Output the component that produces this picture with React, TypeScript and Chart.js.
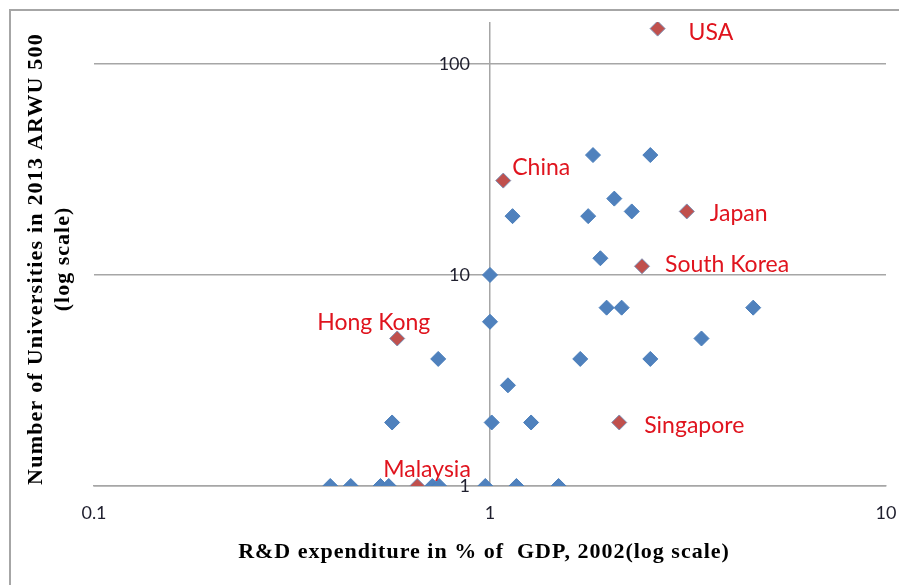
import React, { useEffect, useRef } from 'react';
import { Chart, registerables } from 'chart.js';

Chart.register(...registerables);

// ---- Data ----
const otherRD = [1.0, 1.82, 2.54, 2.06, 2.28, 1.14, 1.77, 1.9, 1.97, 2.15, 4.62, 1.0, 0.74, 1.69, 2.54, 3.42, 1.11, 0.566, 1.01, 1.27, 0.395, 0.445, 0.529, 0.555, 0.715, 0.744, 0.973, 1.166, 1.49];
const otherUniv = [10, 37, 37, 23, 20, 19, 19, 12, 7, 7, 7, 6, 4, 4, 4, 5, 3, 2, 2, 2, 1, 1, 1, 1, 1, 1, 1, 1, 1];
const namedCountries = ['USA', 'China', 'Japan', 'South Korea', 'Hong Kong', 'Singapore', 'Malaysia'];
const namedRD = [2.65, 1.08, 3.14, 2.42, 0.583, 2.12, 0.655];
const namedUniv = [147, 28, 20, 11, 5, 2, 1];
const xTickValues = [0.1, 1, 10];
const yTickValues = [1, 10, 100];
const xAxisTitle = 'R&D expenditure in % of  GDP, 2002(log scale)';
const yAxisTitleLines = ['Number of Universities in 2013 ARWU 500', '(log scale)'];

// ---- Label placement (pixels relative to the point) ----
const labelOffsets: [number, number][] = [[31, 4], [9, -13], [23, 2], [23, -2], [-80, -16], [25, 3], [-34, -16]];

const GRID = '#a6a6a6';
const Y_AXIS_CROSS = 1; // vertical axis line crosses at x = 1
const Y_LABEL_ANCHOR = 0.89; // tick labels sit just left of the crossing

const decorPlugin = {
  id: 'decor',
  beforeDraw(chart: any) {
    const ctx = chart.ctx;
    ctx.save();
    ctx.fillStyle = '#ffffff';
    ctx.fillRect(0, 0, chart.width, chart.height);
    ctx.strokeStyle = GRID;
    ctx.lineWidth = 2;
    ctx.strokeRect(10, 10, 1000, 1000);
    ctx.restore();
  },
  afterDraw(chart: any) {
    const ctx = chart.ctx;
    const meta = chart.getDatasetMeta(0);
    ctx.save();
    ctx.fillStyle = '#e0141e';
    ctx.font = '23px Lato';
    ctx.textBaseline = 'middle';
    ctx.textAlign = 'left';
    meta.data.forEach((pt: any, i: number) => {
      const [dx, dy] = labelOffsets[i];
      ctx.fillText(namedCountries[i], pt.x + dx, pt.y + dy);
    });
    ctx.fillStyle = '#000';
    ctx.font = 'bold 22px "Liberation Serif"';
    (ctx as any).letterSpacing = '1px';
    ctx.textAlign = 'center';
    ctx.fillText(xAxisTitle, 484, 552);
    ctx.translate(36, 259);
    ctx.rotate(-Math.PI / 2);
    (ctx as any).letterSpacing = '1.2px';
    ctx.fillText(yAxisTitleLines[0], 0, 0);
    (ctx as any).letterSpacing = '1px';
    ctx.fillText(yAxisTitleLines[1], 0, 27);
    ctx.restore();
  },
};

export default function App() {
  const ref = useRef<HTMLCanvasElement>(null);
  useEffect(() => {
    if (!ref.current) return;
    const chart = new Chart(ref.current, {
      type: 'scatter',
      data: {
        datasets: [
          {
            label: 'Named',
            data: namedRD.map((x, i) => ({ x, y: namedUniv[i] })),
            pointStyle: 'rectRot',
            pointRadius: 7.5,
            backgroundColor: '#c0504d',
            borderColor: '#7d8fb3',
            borderWidth: 1,
            order: 0,
          },
          {
            label: 'Other',
            data: otherRD.map((x, i) => ({ x, y: otherUniv[i] })),
            pointStyle: 'rectRot',
            pointRadius: 7.5,
            backgroundColor: '#4f81bd',
            borderColor: '#4a7ebb',
            borderWidth: 1,
            order: 1,
          },
        ],
      },
      options: {
        animation: false,
        responsive: false,
        events: [],
        layout: { padding: { left: 94, right: 13, top: 22, bottom: 0 } },
        plugins: { legend: { display: false }, tooltip: { enabled: false }, title: { display: false } },
        scales: {
          x: {
            type: 'logarithmic',
            min: 0.1,
            max: 10,
            position: 'bottom',
            afterBuildTicks: (s: any) => { s.ticks = xTickValues.map((v) => ({ value: v })); },
            afterFit: (s: any) => { s.height = 99; s.paddingLeft = 0; s.paddingRight = 0; },
            grid: {
              display: true,
              drawTicks: false,
              lineWidth: 1.5,
              color: (c: any) => (c.tick && c.tick.value === Y_AXIS_CROSS ? GRID : 'rgba(0,0,0,0)'),
            },
            border: { display: true, color: GRID, width: 1.5 },
            ticks: {
              padding: 16,
              color: '#1f1f2e',
              font: { family: 'Lato', size: 18 },
              maxRotation: 0,
              autoSkip: false,
              callback: (v: any) => String(v),
            },
          },
          y: {
            type: 'logarithmic',
            min: 1,
            max: 158,
            position: { x: Y_LABEL_ANCHOR } as any,
            afterBuildTicks: (s: any) => { s.ticks = yTickValues.map((v) => ({ value: v })); },
            afterFit: (s: any) => { s.paddingLeft = 0; s.paddingRight = 0; },
            grid: { color: GRID, lineWidth: 1.5, drawTicks: false },
            border: { display: false },
            ticks: {
              padding: 0,
              color: '#1f1f2e',
              font: { family: 'Lato', size: 18 },
              autoSkip: false,
              callback: (v: any) => String(v),
            },
          },
        },
      },
      plugins: [decorPlugin],
    });
    return () => chart.destroy();
  }, []);
  return (
    <div style={{ position: 'absolute', left: 0, top: 0, width: 899, height: 585, background: '#fff' }}>
      <canvas ref={ref} width={899} height={585} />
    </div>
  );
}
